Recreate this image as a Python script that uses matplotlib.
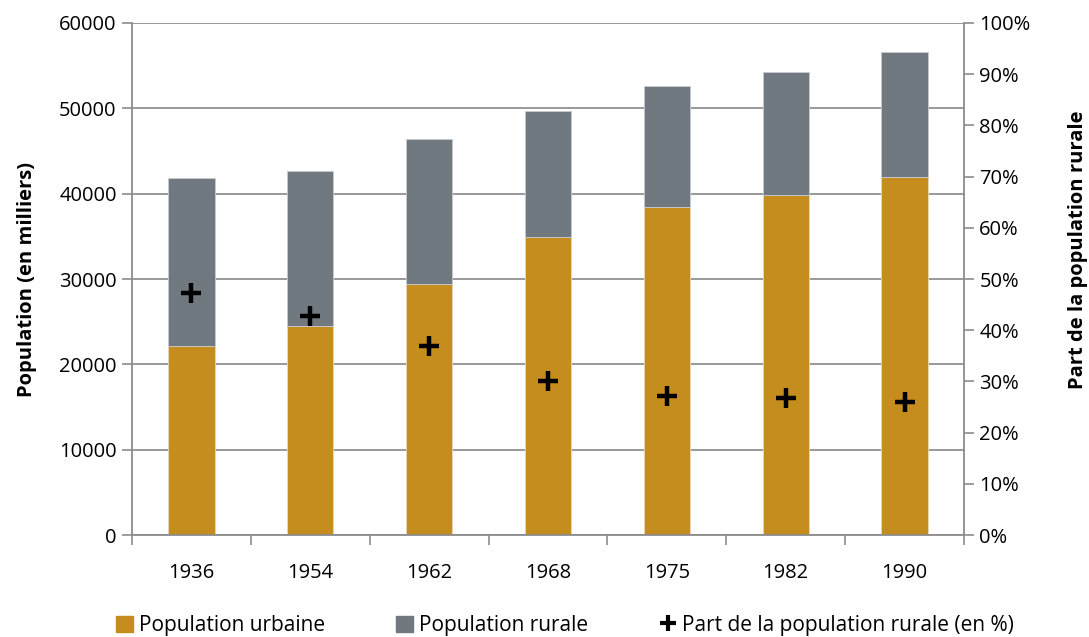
import matplotlib
matplotlib.use("Agg")
import matplotlib.pyplot as plt
from matplotlib.lines import Line2D
from matplotlib.patches import Patch
from matplotlib.ticker import FuncFormatter, FixedLocator
import numpy as np

YEARS = ["1936", "1954", "1962", "1968", "1975", "1982", "1990"]
URBAINE = [22150, 24500, 29400, 34900, 38400, 39800, 41900]
RURALE = [19650, 18200, 17000, 14800, 14200, 14500, 14700]
PART_RURALE = [47.2, 42.8, 36.9, 30.1, 27.2, 26.7, 26.0]

URB_C, RUR_C, AX_C = "#C58C1E", "#717980", "#8C8C8C"
FONT = ["Open Sans", "DejaVu Sans"]
plt.rcParams["font.family"] = FONT
FS = 14.5

fig = plt.figure(figsize=(10.89, 6.37), dpi=100)
ax = fig.add_axes([0.1212, 0.160, 0.7640, 0.804])
x = np.arange(len(YEARS))

ax.bar(x, URBAINE, width=0.39, color=URB_C, edgecolor="#E8D9B8", lw=0.6, zorder=2)
ax.bar(x, RURALE, width=0.39, bottom=URBAINE, color=RUR_C, edgecolor="#C8CCD0", lw=0.6, zorder=2)

ax.set_xlim(-0.5, len(YEARS) - 0.5)
ax.set_ylim(0, 60000)
ax.set_yticks(range(0, 60001, 10000))
ax.yaxis.grid(True, color="#999999", lw=1.4, zorder=0)
ax.set_xticks(x)
ax.set_xticklabels(YEARS)
ax.tick_params(axis="x", length=0, pad=20, labelsize=FS)
ax.xaxis.set_minor_locator(FixedLocator(np.arange(-0.5, len(YEARS), 1.0)))
ax.tick_params(axis="x", which="minor", length=7, color=AX_C, width=1.2)
ax.tick_params(axis="y", length=7, color=AX_C, width=1.2, labelsize=FS, pad=4)
for side in ["top", "right"]:
    ax.spines[side].set_visible(False)
for side in ["left", "bottom"]:
    ax.spines[side].set_color(AX_C)
    ax.spines[side].set_linewidth(1.3)
ax.set_ylabel("Population (en milliers)", fontsize=FS, fontweight="bold", labelpad=16)

ax2 = ax.twinx()
ax2.set_ylim(0, 100)
ax2.set_yticks(range(0, 101, 10))
ax2.yaxis.set_major_formatter(FuncFormatter(lambda v, p: "%d%%" % v))
ax2.plot(x, PART_RURALE, ls="none", marker="+", ms=14, mew=3.2, color="black", zorder=4)
ax2.tick_params(axis="y", length=7, color=AX_C, width=1.2, labelsize=FS, pad=4)
for side in ["top", "left", "bottom"]:
    ax2.spines[side].set_visible(False)
ax2.spines["right"].set_color(AX_C)
ax2.spines["right"].set_linewidth(1.3)
ax2.set_ylabel("Part de la population rurale", fontsize=FS, fontweight="bold")
ax2.yaxis.set_label_coords(1.125, 0.557)

handles = [Patch(color=URB_C, label="Population urbaine"),
           Patch(color=RUR_C, label="Population rurale"),
           Line2D([], [], ls="none", marker="+", ms=12, mew=3, color="black",
                  label="Part de la population rurale (en %)")]
fig.legend(handles=handles, loc="center", bbox_to_anchor=(0.519, 0.018), ncol=3,
           frameon=False, fontsize=15, handlelength=0.8, handleheight=0.8,
           handletextpad=0.3, columnspacing=3.4)

fig.savefig("out.png", dpi=100, facecolor="white")
